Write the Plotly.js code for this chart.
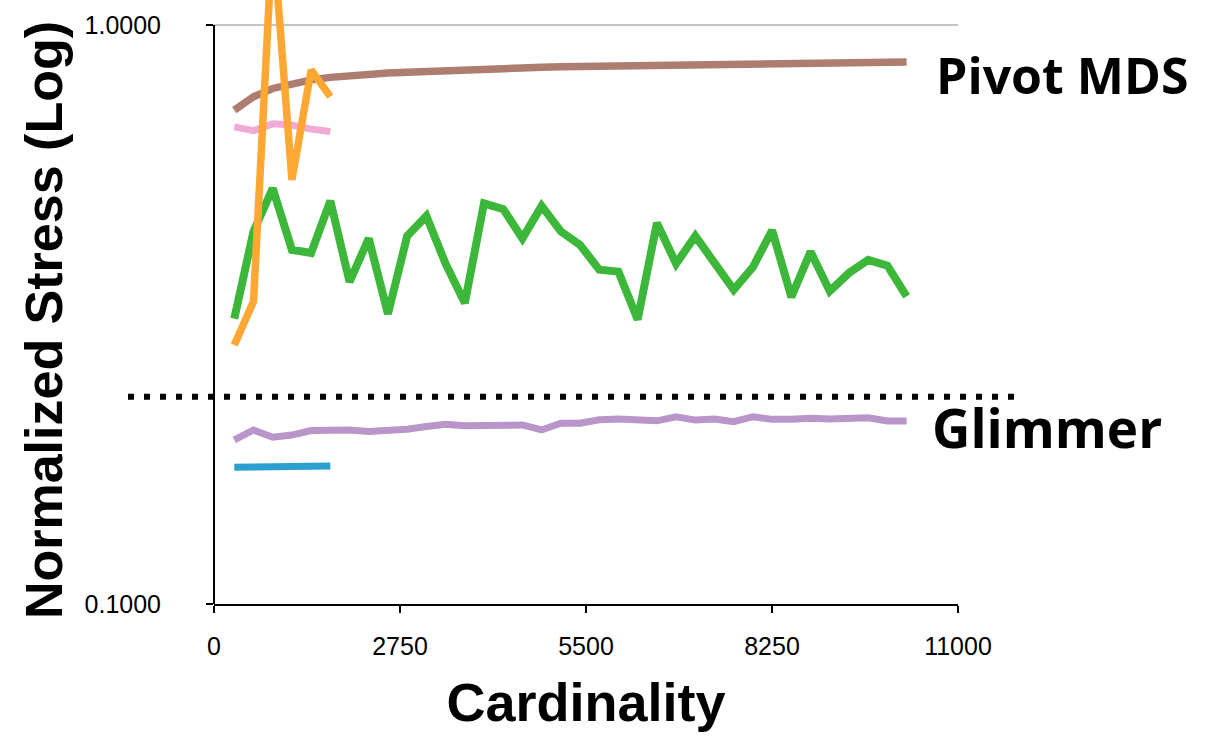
<!DOCTYPE html>
<html>
<head>
<meta charset="utf-8">
<script src="https://cdn.plot.ly/plotly-3.0.1.min.js"></script>
<style>html,body{margin:0;padding:0;background:#fff;}#chart{width:1227px;height:736px;}</style>
</head>
<body>
<div id="chart"></div>
<script>
// Cardinality values (x) for each sample
const cardinality = [300, 584, 868, 1152, 1436, 1720, 2004, 2288, 2572, 2856, 3140, 3424,
  3708, 3992, 4276, 4560, 4844, 5128, 5412, 5696, 5980, 6264, 6548, 6832,
  7116, 7400, 7684, 7968, 8252, 8536, 8820, 9104, 9388, 9672, 9956, 10240];
const cardinalityShort = [300, 584, 868, 1152, 1436, 1720];

// Normalized stress series
const pivotMDS = [0.713, 0.752, 0.777, 0.793, 0.804, 0.812, 0.818, 0.823, 0.826, 0.829, 0.832, 0.835,
  0.838, 0.839, 0.841, 0.844, 0.845, 0.847, 0.848, 0.850, 0.851, 0.852, 0.853, 0.854,
  0.855, 0.856, 0.857, 0.858, 0.858, 0.859, 0.860, 0.860, 0.861, 0.862, 0.862, 0.863];
const greenSeries = [0.311, 0.440, 0.522, 0.409, 0.404, 0.497, 0.360, 0.428, 0.317, 0.432, 0.468, 0.387,
  0.331, 0.492, 0.481, 0.428, 0.487, 0.440, 0.417, 0.378, 0.375, 0.310, 0.455, 0.387,
  0.432, 0.390, 0.349, 0.382, 0.442, 0.339, 0.406, 0.347, 0.373, 0.393, 0.384, 0.340];
const glimmer = [0.1920, 0.1998, 0.1941, 0.1958, 0.1993, 0.1998, 0.1998, 0.1985, 0.1991, 0.2004, 0.2025, 0.2044,
  0.2032, 0.2035, 0.2030, 0.2038, 0.1998, 0.2052, 0.2052, 0.2080, 0.2086, 0.2086, 0.2072, 0.2106,
  0.2078, 0.2086, 0.2065, 0.2106, 0.2084, 0.2084, 0.2093, 0.2086, 0.2086, 0.2098, 0.2071, 0.2071];
const orangeSeries = [0.280, 0.333, 1.45, 0.540, 0.836, 0.752];
const pinkSeries = [0.667, 0.657, 0.675, 0.672, 0.661, 0.655];
const blueSeries = [0.1722, 0.1722, 0.1731, 0.1731, 0.1731, 0.1731];
const glimmerReference = 0.228;

const xTicks = [0, 2750, 5500, 8250, 11000];
const yTicks = [0.1, 1];
const yTickLabels = ['0.1000', '1.0000'];

function line(x, y, color, width, name) {
  return {x: x, y: y, type: 'scatter', mode: 'lines', name: name,
    line: {color: color, width: width, shape: 'linear'}, hoverinfo: 'x+y'};
}

const data = [
  line(cardinality, glimmer, '#b995c9', 7, 'Glimmer'),
  line(cardinalityShort, blueSeries, '#2b9fcf', 7, 'Series 6'),
  line(cardinalityShort, pinkSeries, '#efaad5', 7, 'Series 5'),
  line(cardinality, pivotMDS, '#ad7e70', 7.5, 'Pivot MDS'),
  line(cardinality, greenSeries, '#3cb739', 8, 'Series 3'),
  line(cardinalityShort, orangeSeries, '#ffa733', 7.5, 'Series 4')
];

const sans = '"Liberation Sans", Arial, sans-serif';
const labelFont = '"Open Sans", Lato, sans-serif';

const layout = {
  width: 1227, height: 736,
  margin: {l: 214, r: 269, t: 0, b: 132, pad: 0},
  paper_bgcolor: '#ffffff', plot_bgcolor: '#ffffff',
  showlegend: false,
  font: {family: sans, color: '#000'},
  xaxis: {
    range: [0, 11000], tickvals: xTicks, ticktext: xTicks.map(String),
    showgrid: false, zeroline: false,
    showline: true, linecolor: '#000', linewidth: 2,
    ticks: 'outside', ticklen: 7, tickwidth: 2, tickcolor: '#000',
    tickfont: {size: 25, family: sans, color: '#000'},
    ticklabelstandoff: 12,
    title: {text: 'Cardinality', standoff: 24,
      font: {size: 54, family: sans, weight: 'bold', color: '#000'}}
  },
  yaxis: {
    type: 'log', range: [-1, 0.0432],
    tickvals: yTicks, ticktext: yTickLabels,
    showgrid: true, gridcolor: '#c4c4c4', gridwidth: 2,
    zeroline: false, showline: false,
    ticks: 'outside', ticklen: 7, tickwidth: 2, tickcolor: '#000',
    tickfont: {size: 25, family: sans, color: '#000'},
    ticklabelstandoff: 40
  },
  shapes: [
    {type: 'line', xref: 'paper', yref: 'y', x0: 0, x1: 0, y0: yTicks[0], y1: yTicks[1],
      line: {color: '#000', width: 2}, layer: 'above'},
    {type: 'line', xref: 'paper', yref: 'y', x0: -0.1156, x1: 1.0766, y0: glimmerReference, y1: glimmerReference,
      line: {color: '#000', width: 6, dash: '6px,10px'}, layer: 'above'}
  ],
  annotations: [
    {text: 'Normalized Stress (Log)', textangle: -90, xref: 'paper', yref: 'paper',
      x: -0.2285, y: 0.470, xanchor: 'center', yanchor: 'middle', showarrow: false,
      font: {size: 52, family: sans, weight: 'bold', color: '#000'}},
    {text: 'Pivot MDS', xref: 'paper', yref: 'paper', x: 0.968, y: 0.876, xanchor: 'left', yanchor: 'middle',
      showarrow: false, font: {family: labelFont, size: 50, weight: 'bold', color: '#000'}},
    {text: 'Glimmer', xref: 'paper', yref: 'paper', x: 0.962, y: 0.293, xanchor: 'left', yanchor: 'middle',
      showarrow: false, font: {family: labelFont, size: 53, weight: 'bold', color: '#000'}}
  ]
};

Plotly.newPlot('chart', data, layout, {displayModeBar: false, staticPlot: true});
</script>
</body>
</html>
